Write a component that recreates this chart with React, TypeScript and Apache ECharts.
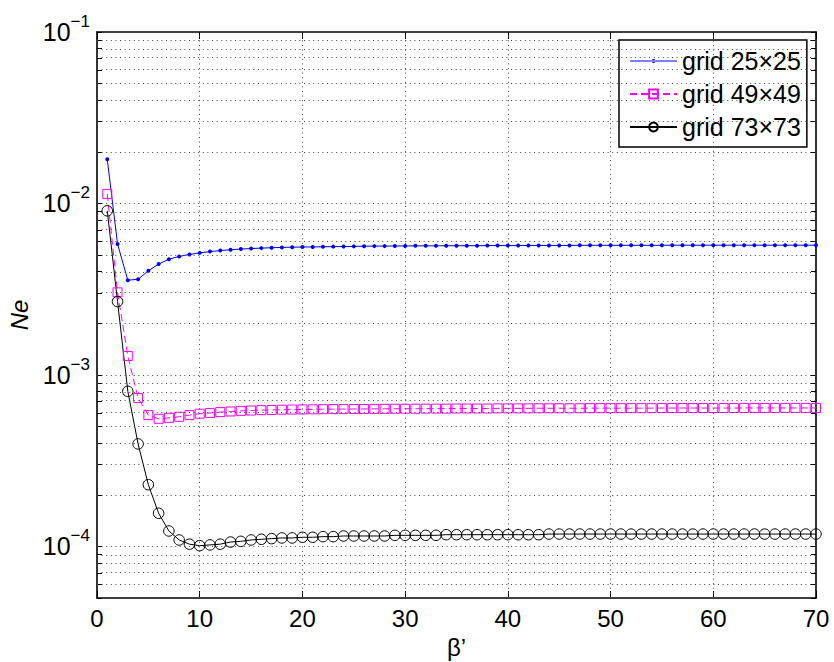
import React, { useEffect, useRef } from 'react';
import * as echarts from 'echarts';

const FONT = '"Liberation Sans", Arial, Helvetica, sans-serif';

const betaValues = [
  1, 2, 3, 4, 5, 6, 7, 8, 9, 10,
  11, 12, 13, 14, 15, 16, 17, 18, 19, 20,
  21, 22, 23, 24, 25, 26, 27, 28, 29, 30,
  31, 32, 33, 34, 35, 36, 37, 38, 39, 40,
  41, 42, 43, 44, 45, 46, 47, 48, 49, 50,
  51, 52, 53, 54, 55, 56, 57, 58, 59, 60,
  61, 62, 63, 64, 65, 66, 67, 68, 69, 70,
];

const ne25 = [
  0.0181, 0.00581, 0.00357, 0.00361, 0.00405, 0.00443, 0.00473, 0.00491, 0.00504, 0.00515,
  0.00524, 0.00531, 0.00537, 0.00542, 0.00546, 0.00549, 0.00552, 0.00554, 0.00556, 0.00557,
  0.00558, 0.00559, 0.0056, 0.00561, 0.00562, 0.00563, 0.00564, 0.00564, 0.00565, 0.00565,
  0.00566, 0.00566, 0.00566, 0.00567, 0.00567, 0.00567, 0.00567, 0.00568, 0.00568, 0.00568,
  0.00568, 0.00569, 0.00569, 0.00569, 0.00569, 0.00569, 0.0057, 0.0057, 0.0057, 0.0057,
  0.0057, 0.0057, 0.0057, 0.0057, 0.0057, 0.00571, 0.00571, 0.00571, 0.00571, 0.00571,
  0.00571, 0.00571, 0.00571, 0.00571, 0.00571, 0.00571, 0.00571, 0.00571, 0.00571, 0.00571,
];

const ne49 = [
  0.01137, 0.00303, 0.00129, 0.000733, 0.000583, 0.000555, 0.000562, 0.00057, 0.000583, 0.000594,
  0.0006, 0.000607, 0.000612, 0.000617, 0.00062, 0.000623, 0.000625, 0.000627, 0.000628, 0.000629,
  0.00063, 0.000631, 0.000632, 0.000632, 0.000633, 0.000633, 0.000634, 0.000634, 0.000635, 0.000635,
  0.000635, 0.000636, 0.000636, 0.000636, 0.000637, 0.000637, 0.000637, 0.000637, 0.000638, 0.000638,
  0.000638, 0.000638, 0.000639, 0.000639, 0.000639, 0.000639, 0.000639, 0.00064, 0.00064, 0.00064,
  0.00064, 0.00064, 0.00064, 0.00064, 0.000641, 0.000641, 0.000641, 0.000641, 0.000641, 0.000641,
  0.000641, 0.000641, 0.000642, 0.000642, 0.000642, 0.000642, 0.000642, 0.000642, 0.000642, 0.000642,
];

const ne73 = [
  0.00906, 0.00268, 0.000802, 0.000396, 0.000229, 0.000156, 0.000123, 0.000109, 0.000103, 0.000101,
  0.000102, 0.000103, 0.000106, 0.000107, 0.000109, 0.00011, 0.000111, 0.000112, 0.000112, 0.000113,
  0.000113, 0.000114, 0.000114, 0.000115, 0.000115, 0.000115, 0.000115, 0.000115, 0.000116, 0.000116,
  0.000116, 0.000116, 0.000116, 0.000117, 0.000117, 0.000117, 0.000117, 0.000117, 0.000117, 0.000117,
  0.000117, 0.000117, 0.000117, 0.000118, 0.000118, 0.000118, 0.000118, 0.000118, 0.000118, 0.000118,
  0.000118, 0.000118, 0.000118, 0.000118, 0.000118, 0.000118, 0.000118, 0.000118, 0.000118, 0.000118,
  0.000118, 0.000118, 0.000118, 0.000118, 0.000118, 0.000118, 0.000118, 0.000118, 0.000118, 0.000118,
];

const seriesNames = ['grid 25\u00d725', 'grid 49\u00d749', 'grid 73\u00d773'];

const xTicks = [0, 10, 20, 30, 40, 50, 60, 70];
const xGridValues = [10, 20, 30, 40, 50, 60];
const yMin = 5e-5;
const yMax = 1e-1;
const yMajorTicks = [1e-4, 1e-3, 1e-2, 1e-1];
const yGridValues = [
  5e-5, 6e-5, 7e-5, 8e-5, 9e-5,
  1e-4, 2e-4, 3e-4, 4e-4, 5e-4, 6e-4, 7e-4, 8e-4, 9e-4,
  1e-3, 2e-3, 3e-3, 4e-3, 5e-3, 6e-3, 7e-3, 8e-3, 9e-3,
  1e-2, 2e-2, 3e-2, 4e-2, 5e-2, 6e-2, 7e-2, 8e-2, 9e-2,
  1e-1,
];

// legend icon for the dotted-marker series: thin line with a small dot
const DOT_LINE_ICON =
  'path://M0 2.4 H47 V3.6 H0 Z M21.5 3 A2 2 0 1 0 25.5 3 A2 2 0 1 0 21.5 3 Z M23.5 0 V0 M23.5 6 V6';

const lg = (v: number) => Math.log10(v);

export default function App() {
  const ref = useRef<HTMLDivElement>(null);

  useEffect(() => {
    if (!ref.current) return;
    const chart = echarts.init(ref.current, null, { renderer: 'svg' });

    const toData = (vals: number[]) => betaValues.map((x, i) => [x, lg(vals[i])]);

    const axisLine = { show: true, onZero: false, lineStyle: { color: '#000', width: 1.6 } };
    const gridDash = { type: [1, 3.6] as any, color: '#444', width: 1 };

    const yTickLogs = yGridValues.map(lg);
    const yLabelLogs = yMajorTicks.map(lg);

    const yCommon = {
      type: 'value' as const,
      min: lg(yMin),
      max: lg(yMax),
      axisLine,
      splitLine: { show: false },
      axisTick: {
        inside: true,
        length: 5,
        customValues: yTickLogs,
        lineStyle: { color: '#000', width: 1 },
      },
    };

    const xCommon = {
      type: 'value' as const,
      min: xTicks[0],
      max: xTicks[xTicks.length - 1],
      interval: 10,
      axisLine,
      splitLine: { show: false },
      axisTick: { inside: true, length: 7, lineStyle: { color: '#000', width: 1 } },
    };

    const option: any = {
      animation: false,
      backgroundColor: '#fff',
      textStyle: { fontFamily: FONT },
      grid: {
        left: 97,
        right: 18,
        top: 32,
        bottom: 64,
        containLabel: false,
        outerBoundsMode: 'none',
      },
      legend: {
        data: [
          { name: seriesNames[0], icon: DOT_LINE_ICON },
          seriesNames[1],
          seriesNames[2],
        ],
        orient: 'vertical',
        left: 619,
        top: 40,
        backgroundColor: '#fff',
        borderColor: '#000',
        borderWidth: 1.5,
        borderRadius: 0,
        padding: [8, 6, 7, 10],
        itemGap: 7,
        itemWidth: 47,
        itemHeight: 11,
        textStyle: { fontSize: 25, color: '#000', fontFamily: FONT, lineHeight: 26 },
      },
      xAxis: [
        {
          ...xCommon,
          position: 'bottom',
          axisLabel: { fontSize: 24, color: '#000', margin: 8, fontFamily: FONT },
          name: '\u03b2\u2019',
          nameLocation: 'middle',
          nameGap: 37,
          nameTextStyle: { fontSize: 24, lineHeight: 24, color: '#000', fontFamily: FONT },
        },
        {
          ...xCommon,
          position: 'top',
          axisLabel: { show: false },
        },
      ],
      yAxis: [
        {
          ...yCommon,
          position: 'left',
          axisLabel: {
            customValues: yLabelLogs,
            margin: 7,
            color: '#000',
            formatter: (v: number) => `{b|10}{s|\u2212${-Math.round(v)}}`,
            rich: {
              b: { fontSize: 25, fontFamily: FONT, color: '#000', lineHeight: 38 },
              s: { fontSize: 17, fontFamily: FONT, color: '#000', lineHeight: 17, verticalAlign: 'top' },
            },
          },
          name: 'Ne',
          nameLocation: 'middle',
          nameGap: 56,
          nameTextStyle: { fontSize: 24, fontStyle: 'italic', color: '#000', fontFamily: FONT },
        },
        {
          ...yCommon,
          position: 'right',
          axisLabel: { show: false },
        },
      ],
      series: [
        {
          name: 'gridlines',
          type: 'line',
          data: [],
          silent: true,
          z: 1,
          markLine: {
            silent: true,
            symbol: 'none',
            label: { show: false },
            lineStyle: gridDash,
            emphasis: { disabled: true },
            data: [
              ...yGridValues.slice(1, -1).map((v) => ({ yAxis: lg(v) })),
              ...xGridValues.map((v) => ({ xAxis: v })),
            ],
          },
        },
        {
          name: seriesNames[0],
          type: 'line',
          z: 3,
          data: toData(ne25),
          color: '#0000ff',
          symbol: 'circle',
          symbolSize: 4,
          showSymbol: true,
          lineStyle: { color: '#0000ff', width: 1 },
          itemStyle: { color: '#0000ff' },
        },
        {
          name: seriesNames[1],
          type: 'line',
          z: 3,
          data: toData(ne49),
          color: '#ff00ff',
          symbol: 'rect',
          symbolSize: 9,
          lineStyle: { color: '#ff00ff', width: 1, type: [7, 4] },
          itemStyle: { color: 'rgba(255,255,255,0)', borderColor: '#ff00ff', borderWidth: 1 },
        },
        {
          name: seriesNames[2],
          type: 'line',
          z: 3,
          data: toData(ne73),
          color: '#000',
          symbol: 'circle',
          symbolSize: 10.5,
          lineStyle: { color: '#000', width: 1 },
          itemStyle: { color: 'rgba(255,255,255,0)', borderColor: '#000', borderWidth: 1 },
        },
      ],
    };

    chart.setOption(option);
    return () => chart.dispose();
  }, []);

  return (
    <div
      ref={ref}
      style={{ position: 'fixed', left: 0, top: 0, width: 834, height: 662, background: '#fff' }}
    />
  );
}
